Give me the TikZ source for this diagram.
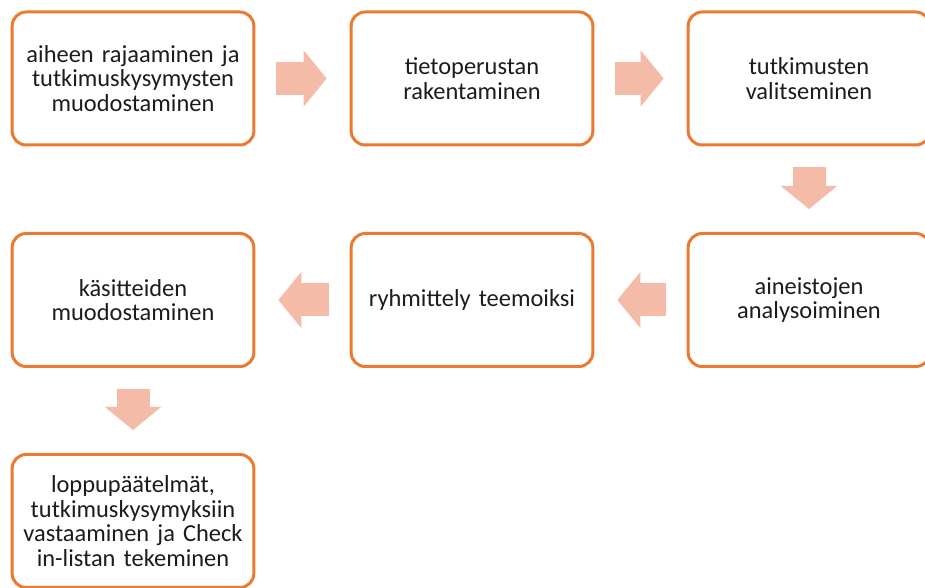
\documentclass[tikz,border=0pt]{standalone}
\usepackage{fontspec}
\setmainfont{Carlito}
\usetikzlibrary{arrows.meta}
\definecolor{boxorange}{RGB}{234,122,50}
\definecolor{arrowpink}{RGB}{244,187,168}
\definecolor{textgray}{RGB}{28,28,28}

\begin{document}
\begin{tikzpicture}[stage/.style={rectangle, rounded corners=0.28cm, draw=boxorange, line width=0.06cm, fill=white, minimum width=4.8cm, minimum height=2.66cm, text width=4.6cm, align=center, text=textgray, font=\fontsize{13.9pt}{14pt}\selectfont},
flow/.style={draw=arrowpink, line width=0.66cm, -{Triangle[width=1.12cm, length=0.46cm, line width=0.8pt, fill=arrowpink]}, shorten <=0.42cm, shorten >=0.46cm}]
\useasboundingbox (0,0) rectangle (18.5,-11.76);
\node[stage] (Rajaus) at (2.66,-1.57) {aiheen rajaaminen ja\\tutkimuskysymysten\\muodostaminen};
\node[stage] (Tietoperusta) at (9.44,-1.57) {tietoperustan\\rakentaminen};
\node[stage] (Valinta) at (16.18,-1.57) {tutkimusten\\valitseminen};
\node[stage] (Analyysi) at (16.18,-6.0) {aineistojen\\analysoiminen};
\node[stage] (Teemat) at (9.44,-6.0) {ryhmittely teemoiksi};
\node[stage] (Kasitteet) at (2.66,-6.0) {käsitteiden\\muodostaminen};
\node[stage] (Loppu) at (2.66,-10.42) {loppupäätelmät,\\tutkimuskysymyksiin\\vastaaminen ja Check\\in-listan tekeminen};

\draw[flow] (Rajaus) -- (Tietoperusta);
\draw[flow] (Tietoperusta) -- (Valinta);
\draw[flow] (Valinta) -- (Analyysi);
\draw[flow] (Analyysi) -- (Teemat);
\draw[flow] (Teemat) -- (Kasitteet);
\draw[flow] (Kasitteet) -- (Loppu);
\end{tikzpicture}
\end{document}
